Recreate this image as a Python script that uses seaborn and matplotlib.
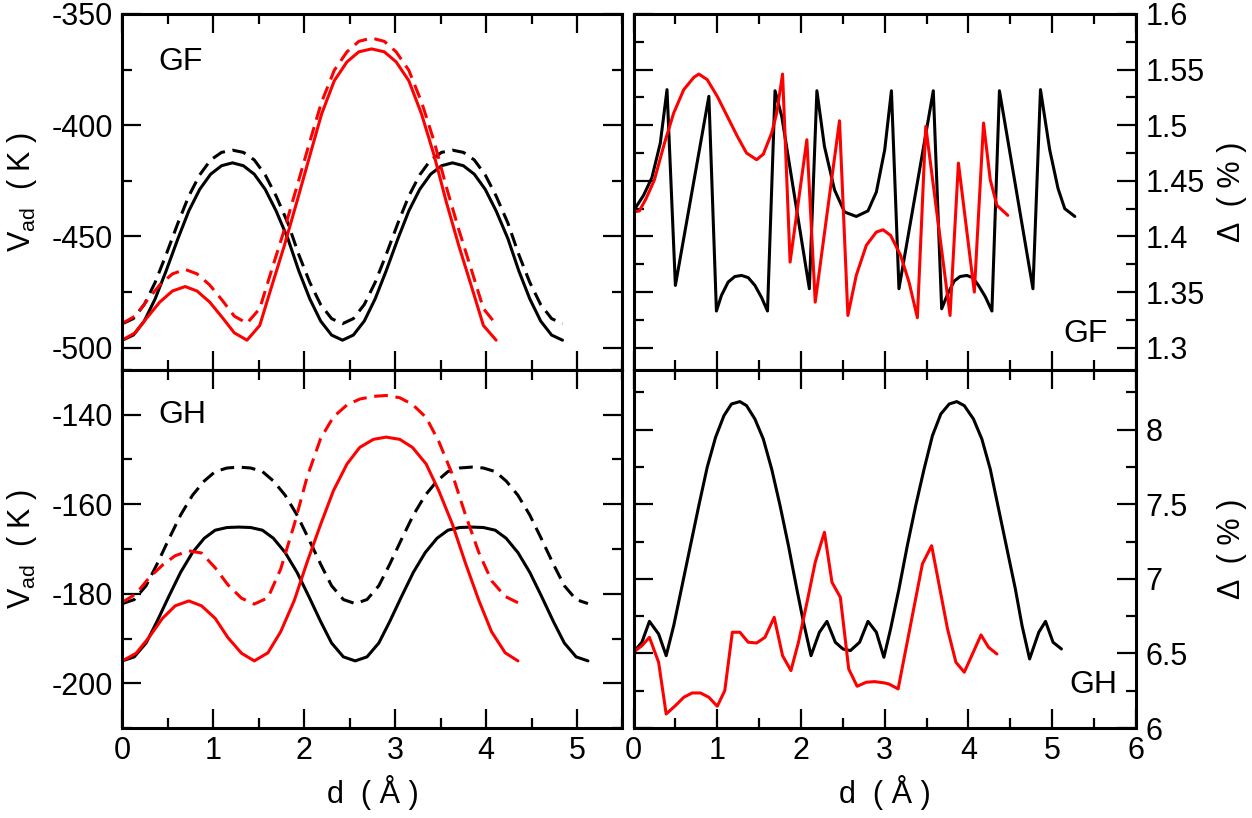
import matplotlib
matplotlib.use("Agg")
import matplotlib.pyplot as plt
import numpy as np
import pandas as pd
import seaborn as sns
from matplotlib.ticker import MultipleLocator, FormatStrFormatter

# ---- left column: adsorption potential V_ad (K) vs d (A) ----
# GF, black (solid / dashed)
gf_x_black = [0.00, 0.12, 0.24, 0.36, 0.48, 0.61, 0.73, 0.85, 0.97, 1.09, 1.21,
              1.33, 1.45, 1.57, 1.69, 1.82, 1.94, 2.06, 2.18, 2.30, 2.42,
              2.54, 2.66, 2.78, 2.90, 3.03, 3.15, 3.27, 3.39, 3.51, 3.63,
              3.75, 3.87, 3.99, 4.11, 4.24, 4.36, 4.48, 4.60, 4.72, 4.84]
gf_black_solid = [-496.6, -494.3, -488.0, -478.0, -465.5, -451.0, -438.5, -428.8, -422.0, -418.2, -416.9,
                  -418.2, -422.0, -428.8, -438.5, -451.0, -465.5, -478.0, -488.0, -494.3, -496.6,
                  -494.3, -488.0, -478.0, -465.5, -451.0, -438.5, -428.8, -422.0, -418.2, -416.9,
                  -418.2, -422.0, -428.8, -438.5, -451.0, -465.5, -478.0, -488.0, -494.3, -496.6]
gf_black_dash = [-489.2, -486.9, -480.6, -470.6, -458.2, -444.0, -431.8, -422.3, -415.6, -412.2, -411.2,
                 -412.2, -415.6, -422.3, -431.8, -444.0, -458.2, -470.6, -480.6, -486.9, -489.2,
                 -486.9, -480.6, -470.6, -458.2, -444.0, -431.8, -422.3, -415.6, -412.2, -411.2,
                 -412.2, -415.6, -422.3, -431.8, -444.0, -458.2, -470.6, -480.6, -486.9, -489.2]
# GF, red (solid / dashed)
gf_x_red = [0.00, 0.14, 0.27, 0.41, 0.55, 0.69, 0.82, 0.96, 1.10, 1.23, 1.37,
            1.51, 1.64, 1.78, 1.92, 2.06, 2.19, 2.33, 2.47, 2.60, 2.74,
            2.88, 3.01, 3.15, 3.29, 3.43, 3.56, 3.70, 3.84, 3.97, 4.11]
gf_red_solid = [-496.5, -493.3, -486.5, -479.5, -474.5, -472.5, -474.5, -479.5, -486.5, -493.3, -496.6,
                -490.0, -472.6, -454.2, -434.2, -413.8, -395.0, -380.0, -371.5, -367.0, -365.7,
                -367.0, -371.5, -380.0, -395.0, -413.8, -434.2, -454.2, -472.6, -490.0, -496.6]
gf_red_dash = [-489.0, -485.8, -478.8, -471.8, -466.8, -464.8, -466.8, -471.8, -478.8, -485.8, -489.0,
               -482.4, -465.2, -447.0, -427.4, -407.5, -389.6, -375.3, -367.0, -362.3, -360.8,
               -362.3, -367.0, -375.3, -389.6, -407.5, -427.4, -447.0, -465.2, -482.4, -489.5]

# GH, black (solid / dashed)
gh_x_black = [0.00, 0.13, 0.26, 0.38, 0.51, 0.64, 0.77, 0.90, 1.02, 1.15, 1.28,
              1.41, 1.54, 1.66, 1.79, 1.92, 2.05, 2.18, 2.30, 2.43, 2.56,
              2.69, 2.82, 2.94, 3.07, 3.20, 3.33, 3.46, 3.58, 3.71, 3.84,
              3.97, 4.10, 4.22, 4.35, 4.48, 4.61, 4.74, 4.86, 4.99, 5.12]
gh_black_solid = [-195.0, -194.1, -191.0, -186.2, -180.6, -175.2, -170.8, -167.6, -165.8, -165.2, -165.1,
                  -165.2, -165.8, -167.6, -170.8, -175.2, -180.6, -186.2, -191.0, -194.1, -195.0,
                  -194.1, -191.0, -186.2, -180.6, -175.2, -170.8, -167.6, -165.8, -165.2, -165.1,
                  -165.2, -165.8, -167.6, -170.8, -175.2, -180.6, -186.2, -191.0, -194.1, -195.0]
gh_black_dash = [-182.2, -181.3, -178.2, -173.4, -167.8, -162.4, -158.0, -154.8, -152.7, -151.9, -151.7,
                 -151.9, -152.7, -154.8, -158.0, -162.4, -167.8, -173.4, -178.2, -181.3, -182.2,
                 -181.3, -178.2, -173.4, -167.8, -162.4, -158.0, -154.8, -152.7, -151.9, -151.7,
                 -151.9, -152.7, -154.8, -158.0, -162.4, -167.8, -173.4, -178.2, -181.3, -182.2]
# GH, red (solid / dashed)
gh_x_red = [0.00, 0.15, 0.29, 0.44, 0.58, 0.73, 0.87, 1.02, 1.16, 1.31, 1.45,
            1.60, 1.74, 1.89, 2.03, 2.18, 2.32, 2.47, 2.61, 2.76, 2.90,
            3.05, 3.19, 3.34, 3.48, 3.63, 3.77, 3.92, 4.06, 4.21, 4.35]
gh_red_solid = [-195.0, -193.3, -189.8, -185.5, -182.7, -181.6, -182.7, -185.5, -189.8, -193.3, -195.0,
                -193.2, -188.5, -181.5, -173.0, -164.5, -157.0, -151.0, -147.3, -145.5, -145.0,
                -145.5, -147.3, -151.0, -157.0, -164.5, -173.0, -181.5, -188.5, -193.2, -195.0]
gh_red_dash = [-181.9, -180.0, -176.5, -173.6, -171.5, -170.4, -170.9, -174.2, -178.0, -181.0, -182.3,
               -180.9, -174.5, -164.5, -154.0, -145.3, -140.5, -137.8, -136.5, -135.9, -135.7,
               -136.2, -137.7, -140.6, -146.0, -153.4, -162.2, -170.8, -177.1, -180.6, -182.0]

# ---- right column: Delta (%) vs d (A) ----
rf_x_black = [0.00, 0.12, 0.22, 0.32, 0.40, 0.50, 0.90, 0.99, 1.05, 1.13, 1.21, 1.29, 1.37, 1.45, 1.53,
              1.60, 1.69, 1.77, 2.10, 2.19, 2.28, 2.40, 2.52, 2.66, 2.80, 2.90, 3.00, 3.08, 3.17, 3.58,
              3.68, 3.75, 3.83, 3.90, 3.98, 4.05, 4.12, 4.20, 4.28, 4.37, 4.77, 4.86, 4.97, 5.07, 5.15, 5.27]
rf_black = [1.423, 1.437, 1.453, 1.484, 1.532, 1.356, 1.526, 1.333, 1.347, 1.359, 1.364, 1.365, 1.363, 1.356, 1.345,
            1.333, 1.531, 1.508, 1.353, 1.531, 1.481, 1.442, 1.422, 1.418, 1.423, 1.440, 1.478, 1.531, 1.353, 1.531,
            1.335, 1.348, 1.360, 1.364, 1.365, 1.363, 1.356, 1.346, 1.333, 1.531, 1.353, 1.532, 1.478, 1.443, 1.425, 1.418]
rf_x_red = [0.00, 0.07, 0.15, 0.25, 0.37, 0.48, 0.60, 0.72, 0.78, 0.88, 1.00, 1.12, 1.24, 1.35, 1.47,
            1.55, 1.65, 1.71, 1.78, 1.87, 2.07, 2.17, 2.46, 2.56, 2.66, 2.78, 2.90, 2.98, 3.07, 3.19,
            3.29, 3.39, 3.49, 3.78, 3.88, 4.07, 4.18, 4.26, 4.34, 4.47]
rf_red = [1.422, 1.423, 1.434, 1.451, 1.484, 1.511, 1.532, 1.543, 1.546, 1.541, 1.526, 1.508, 1.490, 1.475, 1.469,
          1.474, 1.493, 1.511, 1.546, 1.377, 1.487, 1.341, 1.504, 1.329, 1.365, 1.392, 1.404, 1.406, 1.401, 1.383,
          1.359, 1.327, 1.499, 1.329, 1.466, 1.350, 1.502, 1.451, 1.428, 1.419]

rh_x_black = [0.00, 0.10, 0.19, 0.30, 0.39, 0.48, 0.58, 0.68, 0.78, 0.88, 0.98, 1.08, 1.17, 1.27, 1.35,
              1.45, 1.55, 1.65, 1.75, 1.85, 1.95, 2.03, 2.12, 2.22, 2.31, 2.41, 2.50, 2.59, 2.70, 2.80,
              2.90, 2.99, 3.07, 3.17, 3.27, 3.37, 3.47, 3.57, 3.67, 3.77, 3.86, 3.95, 4.06, 4.16, 4.26,
              4.36, 4.46, 4.56, 4.64, 4.73, 4.84, 4.92, 5.01, 5.11]
rh_black = [6.508, 6.575, 6.715, 6.630, 6.485, 6.686, 6.954, 7.223, 7.491, 7.748, 7.949, 8.094, 8.172, 8.188, 8.161,
            8.071, 7.937, 7.736, 7.491, 7.223, 6.932, 6.709, 6.485, 6.642, 6.715, 6.575, 6.530, 6.519, 6.575, 6.715,
            6.642, 6.474, 6.664, 6.932, 7.223, 7.491, 7.736, 7.960, 8.105, 8.172, 8.188, 8.161, 8.071, 7.937, 7.736,
            7.468, 7.200, 6.932, 6.686, 6.463, 6.642, 6.715, 6.575, 6.530]
rh_x_red = [0.00, 0.10, 0.19, 0.30, 0.39, 0.50, 0.60, 0.70, 0.80, 0.90, 1.00, 1.09, 1.18, 1.27, 1.37,
            1.47, 1.57, 1.68, 1.78, 1.88, 1.97, 2.08, 2.17, 2.28, 2.37, 2.47, 2.57, 2.67, 2.78, 2.88,
            3.00, 3.05, 3.16, 3.45, 3.56, 3.75, 3.85, 3.95, 4.15, 4.24, 4.34]
rh_red = [6.508, 6.552, 6.608, 6.440, 6.094, 6.150, 6.206, 6.235, 6.235, 6.206, 6.146, 6.251, 6.642, 6.642, 6.575,
          6.570, 6.608, 6.742, 6.485, 6.385, 6.575, 6.865, 7.111, 7.312, 6.977, 6.876, 6.396, 6.280, 6.307, 6.311,
          6.302, 6.295, 6.262, 7.100, 7.222, 6.664, 6.441, 6.374, 6.624, 6.541, 6.496]


def long_df(parts):
    frames = [pd.DataFrame({"d": x, "v": y, "col": c, "ls": s}) for x, y, c, s in parts]
    return pd.concat(frames, ignore_index=True)


sns.set_style("ticks")
plt.rcParams["font.family"] = ["Liberation Sans", "DejaVu Sans"]
plt.rcParams["mathtext.fontset"] = "custom"
plt.rcParams["mathtext.rm"] = "Liberation Sans"
plt.rcParams["axes.unicode_minus"] = False
for key in ("text.color", "axes.labelcolor", "axes.edgecolor", "xtick.color", "ytick.color"):
    plt.rcParams[key] = "black"

palette = {"black": "#000000", "red": "#ff0000"}
dashes = {"solid": "", "dashed": (4.5, 2.5)}

fig = plt.figure(figsize=(12.52, 8.18), dpi=100)
ax_tl = fig.add_axes([0.0978, 0.5477, 0.3994, 0.4352])
ax_bl = fig.add_axes([0.0978, 0.1100, 0.3994, 0.4377])
ax_tr = fig.add_axes([0.5060, 0.5477, 0.4013, 0.4352])
ax_br = fig.add_axes([0.5060, 0.1100, 0.4013, 0.4377])

panels = [
    (ax_tl, [(gf_x_black, gf_black_solid, "black", "solid"), (gf_x_black, gf_black_dash, "black", "dashed"),
             (gf_x_red, gf_red_solid, "red", "solid"), (gf_x_red, gf_red_dash, "red", "dashed")]),
    (ax_bl, [(gh_x_black, gh_black_solid, "black", "solid"), (gh_x_black, gh_black_dash, "black", "dashed"),
             (gh_x_red, gh_red_solid, "red", "solid"), (gh_x_red, gh_red_dash, "red", "dashed")]),
    (ax_tr, [(rf_x_black, rf_black, "black", "solid"), (rf_x_red, rf_red, "red", "solid")]),
    (ax_br, [(rh_x_black, rh_black, "black", "solid"), (rh_x_red, rh_red, "red", "solid")]),
]
for ax, parts in panels:
    sns.lineplot(data=long_df(parts), x="d", y="v", hue="col", style="ls", palette=palette,
                 dashes=dashes, estimator=None, sort=False, legend=False, linewidth=2.2, ax=ax)


def setup(ax, xlim, xmaj, ylim, ymaj, ymin, right=False, xlabels=True):
    ax.set_xlim(xlim)
    ax.set_ylim(ylim)
    ax.xaxis.set_major_locator(MultipleLocator(xmaj))
    ax.xaxis.set_minor_locator(MultipleLocator(xmaj / 2))
    ax.yaxis.set_major_locator(MultipleLocator(ymaj))
    ax.yaxis.set_minor_locator(MultipleLocator(ymin))
    ax.xaxis.set_major_formatter(FormatStrFormatter("%g"))
    ax.yaxis.set_major_formatter(FormatStrFormatter("%g"))
    ax.tick_params(which="both", direction="in", top=True, right=True, width=1.6, labelsize=22,
                   color="black", labelcolor="black")
    ax.tick_params(which="major", length=14)
    ax.tick_params(which="minor", length=7)
    ax.tick_params(axis="x", pad=6)
    ax.tick_params(axis="y", pad=7)
    if right:
        ax.tick_params(axis="y", labelleft=False, labelright=True)
    if not xlabels:
        ax.tick_params(axis="x", labelbottom=False)
    for sp in ax.spines.values():
        sp.set_linewidth(2.2)
        sp.set_color("black")
    ax.set_xlabel("")
    ax.set_ylabel("")


setup(ax_tl, (0, 5.5), 1, (-510, -350), 50, 25, xlabels=False)
setup(ax_bl, (0, 5.5), 1, (-210, -130), 20, 10)
setup(ax_tr, (0, 6), 1, (1.28, 1.6), 0.05, 0.025, right=True, xlabels=False)
setup(ax_br, (0, 6), 1, (6, 8.4), 0.5, 0.25, right=True)

ax_tl.text(0.071, 0.843, "GF", transform=ax_tl.transAxes, fontsize=23, va="baseline")
ax_bl.text(0.071, 0.852, "GH", transform=ax_bl.transAxes, fontsize=23, va="baseline")
ax_tr.text(0.944, 0.079, "GF", transform=ax_tr.transAxes, fontsize=23, va="baseline", ha="right")
ax_br.text(0.964, 0.098, "GH", transform=ax_br.transAxes, fontsize=23, va="baseline", ha="right")

W, H = 1252, 818
for yc in (192, 549):
    fig.text(22 / W, 1 - yc / H, r"V$_{\mathrm{ad}}$  ( K )", rotation=90, ha="center", va="center", fontsize=22)
    fig.text(1232 / W, 1 - yc / H, "Δ  ( % )", rotation=90, ha="center", va="center", fontsize=22)
for xc in (372.5, 884.5):
    fig.text(xc / W, 1 - 793 / H, "d  ( Å )", ha="center", va="center", fontsize=22)

fig.savefig("out.png", dpi=100)
